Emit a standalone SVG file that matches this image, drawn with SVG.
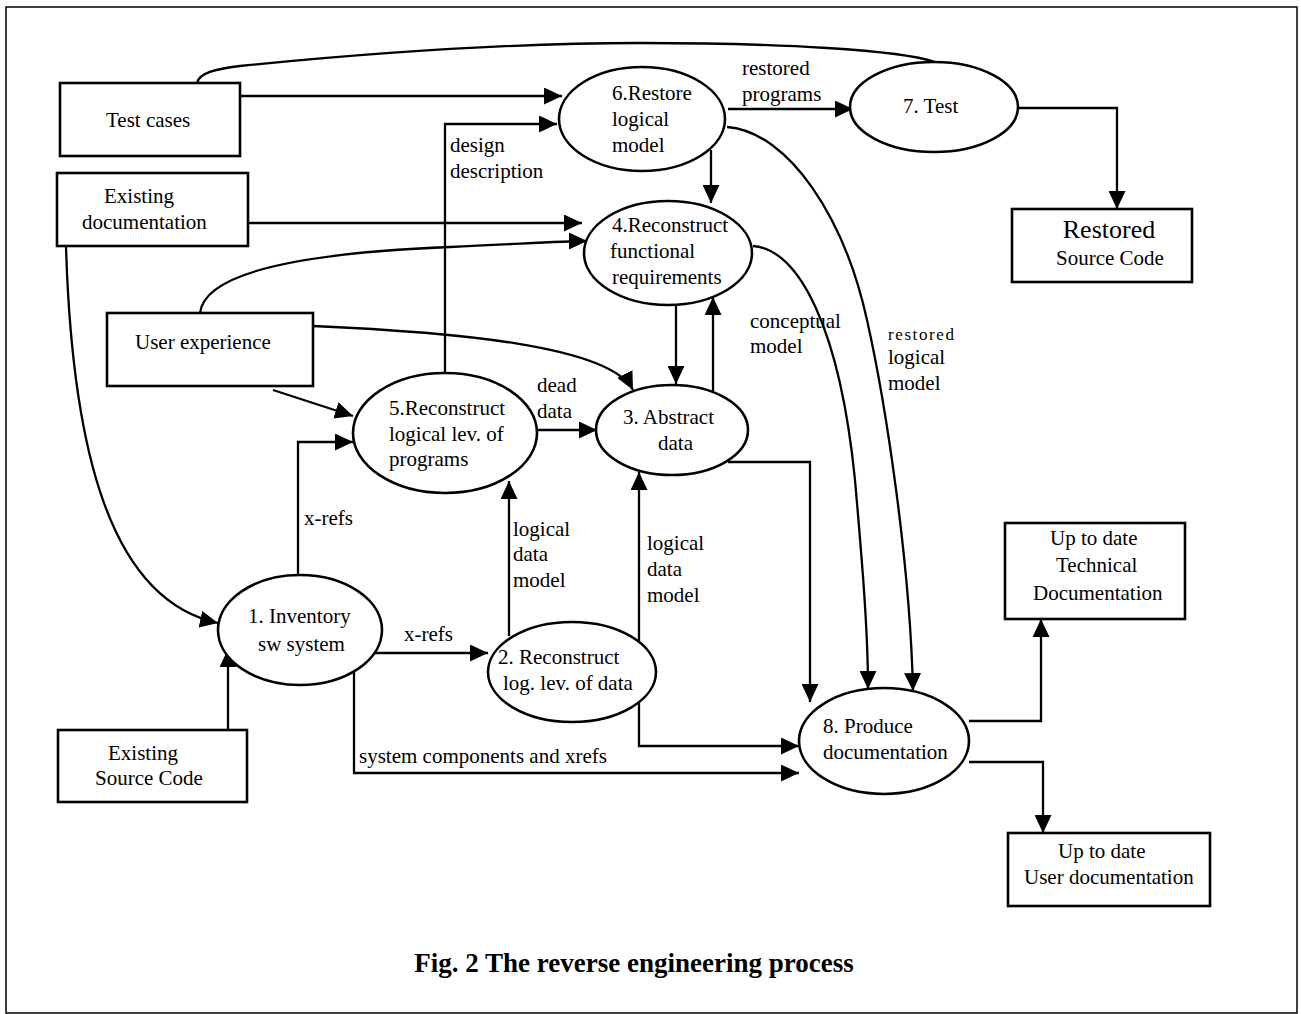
<svg xmlns="http://www.w3.org/2000/svg" width="1301" height="1014" viewBox="0 0 1301 1014">
<defs>
<marker id="ah" markerWidth="18" markerHeight="17" refX="18" refY="8.5" orient="auto" markerUnits="userSpaceOnUse"><path d="M0,0 L18,8.5 L0,17 z" fill="#000"/></marker>
<style>
text{font-family:"Liberation Serif","Times New Roman",serif;font-size:21px;fill:#000}
.n{fill:#fff;stroke:#000;stroke-width:2.6}
.c{fill:none;stroke:#000;stroke-width:2.3}
.a{marker-end:url(#ah)}
.m{text-anchor:middle}
.sm{font-size:17px;letter-spacing:1.6px}
.cap{font-weight:bold;font-size:27px;text-anchor:middle}
</style>
</defs>
<rect x="0" y="0" width="1301" height="1014" fill="#fff"/>
<rect x="6" y="7" width="1291" height="1006" fill="none" stroke="#000" stroke-width="1.5"/>

<g id="connectors">
<path class="c" d="M197,83 C199,73 215,69 240,66 C350,55 500,43 640,43 C780,43 900,50 935,62"/>
<path class="c a" d="M240,96 L562,96"/>
<path class="c a" d="M445,373 L445,124 L557,124"/>
<path class="c a" d="M728,109 L853,109"/>
<path class="c a" d="M1018,108 L1117,108 L1117,209"/>
<path class="c a" d="M711,150 L711,203"/>
<path class="c a" d="M248,223 L582,223"/>
<path class="c a" d="M200,313 C203,285 250,255 450,247 C520,244 560,241 587,241"/>
<path class="c a" d="M66,246 C72,450 110,600 218,623"/>
<path class="c a" d="M313,326 C450,332 610,345 633,390"/>
<path class="c a" d="M273,390 L353,416"/>
<path class="c a" d="M298,575 L298,442 L353,442"/>
<path class="c a" d="M228,730 L228,649"/>
<path class="c a" d="M372,653 L488,653"/>
<path class="c a" d="M354,668 L354,773 L799,773"/>
<path class="c a" d="M509,636 L509,481"/>
<path class="c a" d="M639,642 L639,472"/>
<path class="c a" d="M639,702 L639,746 L799,746"/>
<path class="c a" d="M537,430 L597,430"/>
<path class="c a" d="M676,305 L676,384"/>
<path class="c a" d="M713,391 L713,297"/>
<path class="c a" d="M728,462 L810,462 L810,702"/>
<path class="c a" d="M753,246 C800,250 840,330 855,480 C862,560 868,630 868,689"/>
<path class="c a" d="M727,127 C790,132 845,220 867,320 C885,400 910,560 913,691"/>
<path class="c a" d="M969,721 L1041,721 L1041,619"/>
<path class="c a" d="M969,762 L1043,762 L1043,833"/>
</g>

<g id="labels">
<text x="450" y="152">design</text>
<text x="450" y="178">description</text>
<text x="742" y="75">restored</text>
<text x="742" y="101">programs</text>
<text x="304" y="525">x-refs</text>
<text x="404" y="641">x-refs</text>
<text x="359" y="763">system components and xrefs</text>
<text x="513" y="536">logical</text>
<text x="513" y="561">data</text>
<text x="513" y="587">model</text>
<text x="647" y="550">logical</text>
<text x="647" y="576">data</text>
<text x="647" y="602">model</text>
<text x="537" y="392">dead</text>
<text x="537" y="418">data</text>
<text x="750" y="328">conceptual</text>
<text x="750" y="353">model</text>
<text class="sm" x="888" y="340">restored</text>
<text x="888" y="364">logical</text>
<text x="888" y="390">model</text>
</g>

<g id="test-cases">
<rect class="n" x="60" y="83" width="180" height="73"/>
<text x="106" y="127">Test cases</text>
</g>
<g id="existing-documentation">
<rect class="n" x="57" y="173" width="191" height="73"/>
<text x="104" y="203">Existing</text>
<text x="82" y="229">documentation</text>
</g>
<g id="user-experience">
<rect class="n" x="107" y="313" width="206" height="73"/>
<text x="135" y="349">User experience</text>
</g>
<g id="existing-source-code">
<rect class="n" x="58" y="730" width="189" height="72"/>
<text x="108" y="760">Existing</text>
<text x="95" y="785">Source Code</text>
</g>
<g id="restored-source-code">
<rect class="n" x="1012" y="209" width="180" height="73"/>
<text class="m" x="1109" y="238" style="font-size:26px">Restored</text>
<text class="m" x="1110" y="265">Source Code</text>
</g>
<g id="tech-doc">
<rect class="n" x="1005" y="523" width="180" height="96"/>
<text x="1050" y="545">Up to date</text>
<text x="1056" y="572">Technical</text>
<text x="1033" y="600">Documentation</text>
</g>
<g id="user-doc">
<rect class="n" x="1008" y="833" width="202" height="73"/>
<text x="1058" y="858">Up to date</text>
<text x="1024" y="884">User documentation</text>
</g>

<g id="p6">
<ellipse class="n" cx="642" cy="119" rx="83" ry="52"/>
<text x="612" y="100">6.Restore</text>
<text x="612" y="126">logical</text>
<text x="612" y="152">model</text>
</g>
<g id="p7">
<ellipse class="n" cx="934" cy="107" rx="84" ry="45"/>
<text x="903" y="113">7. Test</text>
</g>
<g id="p4">
<ellipse class="n" cx="668" cy="253" rx="84" ry="52"/>
<text x="612" y="232">4.Reconstruct</text>
<text x="610" y="258">functional</text>
<text x="612" y="284">requirements</text>
</g>
<g id="p5">
<ellipse class="n" cx="445" cy="433" rx="92" ry="60"/>
<text x="389" y="415">5.Reconstruct</text>
<text x="389" y="441">logical lev. of</text>
<text x="389" y="466">programs</text>
</g>
<g id="p3">
<ellipse class="n" cx="672" cy="430" rx="76" ry="45"/>
<text x="623" y="424">3. Abstract</text>
<text x="658" y="450">data</text>
</g>
<g id="p1">
<ellipse class="n" cx="300" cy="630" rx="82" ry="55"/>
<text x="248" y="623">1. Inventory</text>
<text x="258" y="651">sw system</text>
</g>
<g id="p2">
<ellipse class="n" cx="572" cy="672" rx="84" ry="50"/>
<text x="498" y="664">2. Reconstruct</text>
<text x="503" y="690">log. lev. of data</text>
</g>
<g id="p8">
<ellipse class="n" cx="884" cy="741" rx="85" ry="53"/>
<text x="823" y="733">8. Produce</text>
<text x="823" y="759">documentation</text>
</g>

<text class="cap" x="634" y="972">Fig. 2 The reverse engineering process</text>
</svg>
